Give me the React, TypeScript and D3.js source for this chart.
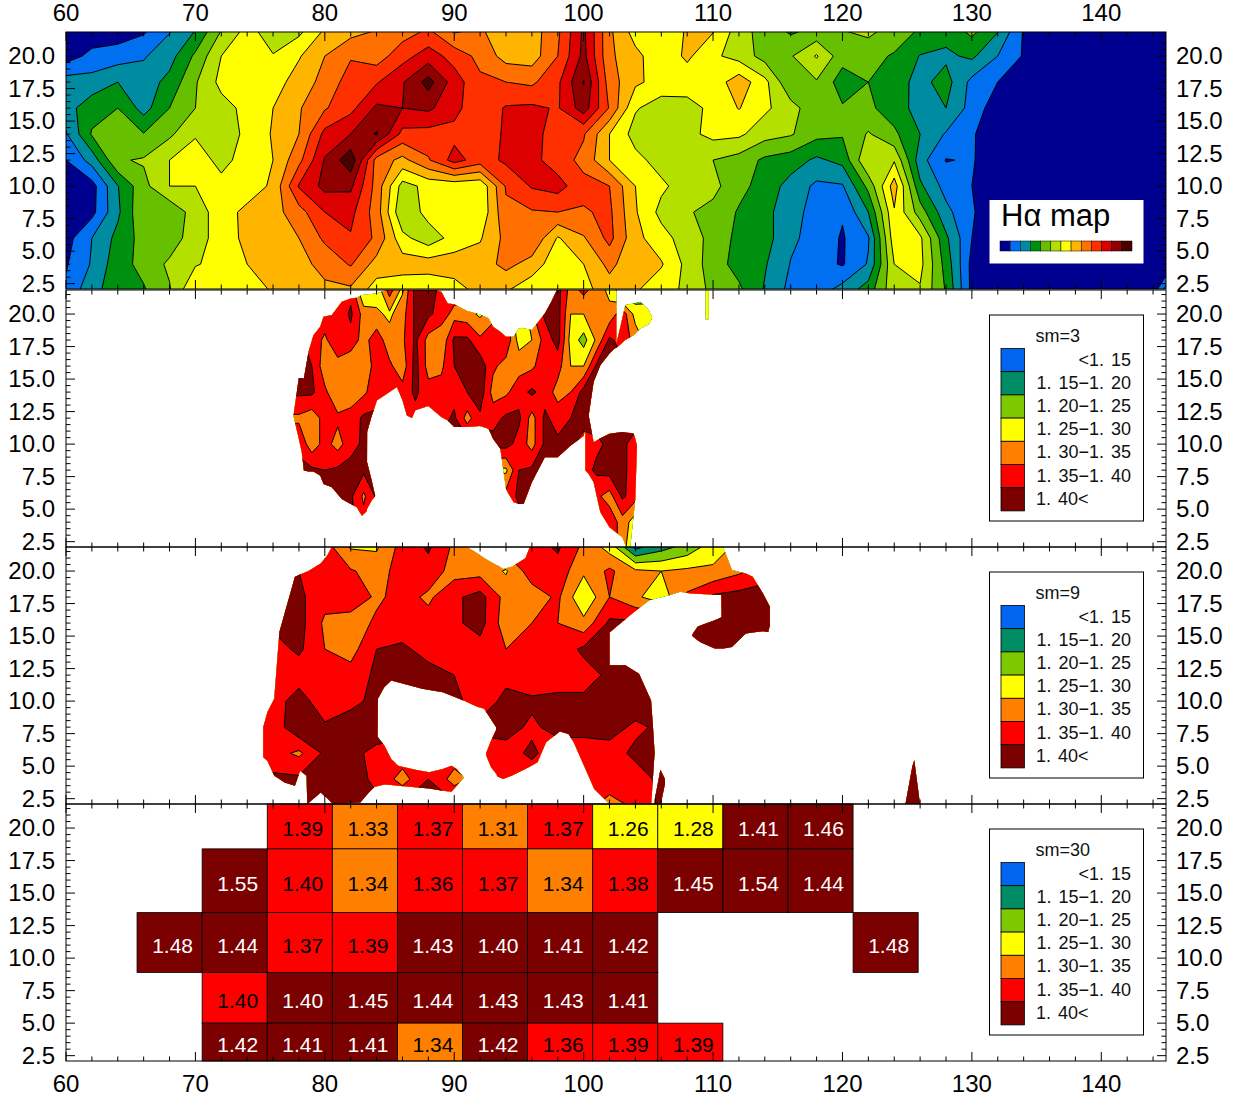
import React from "react";
import * as d3 from "d3";

// ---------- tick labels ----------
const xMajor = [60, 70, 80, 90, 100, 110, 120, 130, 140];
const xMinor = d3.range(60, 146, 2);
const yMajor = [2.5, 5, 7.5, 10, 12.5, 15, 17.5, 20];
const yMinor = d3.range(2.5, 21.6, 0.5);

// ---------- H-alpha map: band index, rows y=22..2, columns x=60,62..146 ----------
const haLevels = [1, 2, 3, 4, 5, 6, 7, 8, 9, 10, 11, 12];
const haColors = ["#000090", "#0070f0", "#008ca0", "#009010", "#66c000", "#b4e000", "#ffff00", "#ffb400", "#ff7000", "#ff3000", "#dc0000", "#900000", "#480000"];
const haGrid = [
  [.3,.3,.4,.8,1.9,3.0,5.0,6.3,5.5,5.7,7.1,7.6,8.0,8.5,9.1,7.8,8.1,7.5,7.5,8.8,11.2,8.2,6.5,6.3,7.1,7.1,5.5,4.5,3.8,4.2,5.0,5.3,4.6,3.9,3.4,4.3,3.1,.9,.3,.3,.3,.3,.3,.3],
  [.5,1.3,1.5,1.9,2.6,4.2,6.0,6.6,6.05,6.9,8.0,8.9,8.5,9.6,10.5,9.6,8.7,7.6,7.5,9.0,11.3,8.2,7.3,6.3,7.2,6.2,5.6,4.6,4.9,6.1,4.4,4.3,3.9,2.95,2.8,3.2,2.0,.9,.3,.3,.3,.3,.3,.3],
  [2.5,2.4,3.0,2.5,3.3,4.9,6.3,6.6,6.5,7.5,8.3,9.5,9.9,10.9,12.4,10.5,9.2,9.0,8.8,9.8,12.05,8.5,7.2,6.6,6.4,6.4,7.6,6.3,4.1,4.9,3.5,4.0,3.4,2.7,3.4,1.7,1.0,.3,.3,.3,.3,.3,.3,.3],
  [2.6,3.6,4.0,2.6,4.0,5.0,5.6,6.3,7.0,7.9,8.9,9.7,11.2,11.0,11.2,10.3,9.3,10.1,10.2,9.9,11.5,8.9,6.1,5.5,5.7,6.2,7.05,6.2,5.4,4.3,4.1,4.2,3.5,2.6,3.0,1.6,.4,.3,.3,.3,.3,.3,.3,.3],
  [1.9,4.1,4.5,4.05,4.8,5.9,5.5,6.2,7.1,8.0,10.3,11.0,12.1,9.7,9.6,9.7,9.2,10.2,10.3,9.6,9.1,7.0,5.6,5.5,5.7,6.3,6.2,5.4,5.1,4.3,4.1,5.1,4.2,3.0,1.9,1.1,.4,.3,.3,.3,.3,.3,.3,.3],
  [1.0,2.4,4.9,5.1,6.0,6.5,5.7,6.4,7.0,8.7,11.1,12.7,8.6,7.7,8.9,10.4,9.5,10.2,10.3,9.5,8.7,7.0,6.3,5.6,5.5,5.0,4.6,3.8,3.5,2.8,3.3,6.0,5.9,2.4,.95,1.1,.3,.3,.3,.3,.3,.3,.3,.3],
  [.4,.6,2.95,4.7,6.0,6.0,6.3,6.4,7.2,10.1,11.3,11.2,8.6,5.6,6.3,6.3,6.2,9.1,10.1,10.4,9.3,9.0,7.0,6.2,5.5,5.3,4.3,3.6,2.6,1.8,1.9,4.3,7.5,3.2,1.6,1.0,.3,.3,.3,.3,.3,.3,.3,.3],
  [.4,.7,2.8,4.9,4.2,5.5,6.5,7.3,7.6,8.6,10.0,10.3,8.5,5.1,6.4,6.4,6.2,8.8,8.9,9.0,8.9,9.2,7.1,5.7,5.1,4.7,3.9,3.4,2.2,1.8,1.1,3.0,6.9,4.5,2.3,1.1,.3,.3,.3,.3,.3,.3,.3,.3],
  [.6,2.0,3.3,4.4,4.4,5.6,6.4,7.3,7.4,8.0,9.2,9.9,8.8,6.3,5.4,6.4,6.9,8.3,8.9,6.9,7.9,9.3,7.3,6.4,5.5,4.7,3.7,3.4,2.2,1.6,.9,1.9,6.6,6.2,3.2,1.0,.3,.3,.3,.3,.3,.3,.3,.3],
  [.9,2.1,3.6,4.3,5.2,5.9,6.4,7.0,7.3,7.7,8.3,9.1,7.6,7.5,7.5,7.5,7.5,8.3,7.6,6.3,7.0,8.3,7.2,7.1,5.7,4.5,3.6,3.1,1.95,1.4,.9,2.1,6.0,6.3,3.6,.7,.3,.3,.3,.3,.3,.3,.3,1.2],
  [1.2,2.7,3.5,3.9,4.9,7.05,6.7,6.5,7.1,7.4,7.8,7.8,6.5,6.3,6.2,6.6,7.3,7.1,6.3,6.2,6.7,7.5,7.1,6.4,5.8,4.7,4.2,2.9,1.7,1.5,2.4,3.5,5.7,5.9,3.9,.7,.3,.3,.3,.3,.3,.3,.3,5],
];

// ---------- ratio panels ----------
const ratioLevels = [1.15, 1.2, 1.25, 1.3, 1.35, 1.4];
const ratioColors = ["#0066f0", "#008c64", "#7ec800", "#ffff00", "#ff8000", "#ff0000", "#7b0000"];
const ratioLabels = ["<1. 15", "1. 15\u22121. 20", "1. 20\u22121. 25", "1. 25\u22121. 30", "1. 30\u22121. 35", "1. 35\u22121. 40", "1. 40<"];

// sm=3: rows y=22..2, columns x=76,77..110 (0 = no observation)
const sm3Grid = [
  [0,0,0,0,0,0,1.38,1.23,1.27,1.38,1.29,1.42,1.42,1.39,0,0,0,0,0,0,0,1.41,1.42,1.33,1.37,1.33,1.28,1.19,1.20,1.22,1.27,0,0,0,0],
  [0,0,0,0,1.38,1.36,1.41,1.33,1.31,1.29,1.33,1.41,1.41,1.38,1.33,1.32,1.29,1.34,1.38,1.23,1.34,1.41,1.42,1.30,1.30,1.33,1.32,1.38,1.28,1.27,1.27,0,0,0,0],
  [0,0,1.41,1.38,1.34,1.39,1.38,1.33,1.38,1.32,1.34,1.41,1.33,1.31,1.41,1.41,1.36,1.37,1.39,1.28,1.30,1.37,1.42,1.28,1.23,1.31,1.41,1.38,1.33,1.28,0,0,0,0,0],
  [0,0,1.41,1.40,1.32,1.33,1.31,1.32,1.37,1.36,1.32,1.42,1.33,1.34,1.40,1.42,1.43,1.36,1.33,1.33,1.34,1.38,1.37,1.30,1.30,1.41,1.41,0,0,0,0,0,0,0,0],
  [0,0,1.41,1.41,1.36,1.31,1.32,1.34,1.38,1.39,1.37,1.41,1.37,1.37,1.38,1.40,1.43,1.33,1.34,1.38,1.41,1.38,1.33,1.35,1.42,1.42,0,0,0,0,0,0,0,0,0],
  [0,0,1.34,1.32,1.37,1.36,1.37,1.41,1.41,1.41,1.39,1.38,1.38,1.38,1.41,1.33,1.39,1.38,1.41,1.41,1.33,1.41,1.38,1.40,1.42,0,0,0,0,0,0,0,0,0,0],
  [0,0,1.39,1.32,1.37,1.33,1.38,1.41,1.41,0,0,0,0,0,0,0,0,0,1.42,1.38,1.33,1.41,1.41,1.41,1.38,1.39,1.41,1.41,1.38,0,0,0,0,0,0],
  [0,0,0,1.41,1.40,1.41,1.42,1.41,0,0,0,0,0,0,0,0,0,0,1.29,1.40,1.41,1.41,0,0,1.38,1.41,1.42,1.41,1.38,0,0,0,0,0,0],
  [0,0,0,0,0,1.41,1.41,1.34,1.41,0,0,0,0,0,0,0,0,0,1.37,1.41,1.41,0,0,0,0,1.36,1.33,1.41,1.37,0,0,0,0,0,0],
  [0,0,0,0,0,0,1.41,1.37,1.41,0,0,0,0,0,0,0,0,0,0,0,0,0,0,0,0,0,1.38,1.33,1.27,0,0,0,0,0,0],
  [0,0,0,0,0,0,1.38,1.38,0,0,0,0,0,0,0,0,0,0,0,0,0,0,0,0,0,0,1.38,1.33,1.22,0,0,0,0,0,0],
];
// observed extent: [x, upper y, lower y]
const sm3Body = [[77.58,12.21,12.16],[77.99,15.09,10.41],[78.22,15.09,9.38],[78.38,15.04,7.97],[78.74,17.1,7.89],[79.12,18.38,7.89],[79.64,19.02,7.58],[79.9,19.79,6.94],[80.54,19.92,6.68],[81.31,20.95,5.78],[82,21.2,5.4],[82.47,21.26,5.14],[82.86,21.47,4.5],[83.25,21.5,4.85],[83.27,21.5,10.93],[83.6,21.55,12.08],[84.03,21.6,13.37],[84.54,21.77,13.7],[85,22,14],[85.57,22,14.4],[86,22,13.37],[86.34,22,12.21],[86.73,22,12],[87,22,12.6],[88,22,12.93],[89,21.72,12.08],[89.5,20.82,11.82],[90,20.75,11.31],[91,20.23,11.31],[92,19.97,11.39],[92.65,19.67,11.18],[93,19.02,10.41],[93.56,18.64,9.64],[94,18.25,6.56],[94.2,18.25,6.17],[94.59,18.25,5.53],[95,18.9,5.4],[95.36,18.9,5.4],[96,18.77,7.07],[97,20.05,9],[97.5,20.95,9],[98,22,9],[99,22,9.9],[100,22,10.62],[100.39,22,12.21],[100.77,22,14.78],[101.29,22,16.07],[102,22,16.97],[102.53,22,17.48]];
const sm3Spur = [[83.2,8.87,4.9],[83.6,7.3,5.63],[83.89,6.04,6.02]];
const sm3Lobe = [[102.47,17.48,17.35],[102.84,19.02,17.66],[103.22,20.69,18],[103.87,20.82,18.38],[104.38,20.95,18.89],[105.03,20.31,19.2],[105.28,19.8,19.67]];
const sm3Lower = [[100.13,12.47,7.97],[100.39,12.21,7.71],[100.77,10.15,7.07],[101.29,10.46,4.76],[102,10.8,3.6],[103,10.93,2.83],[103.35,10.87,1.93],[103.6,10.85,2.06],[103.87,10.8,4.58],[103.99,10.41,5.78],[104.12,9.9,9.85]];
const sm3Tick = [[109.43,22,19.6],[109.66,22,19.6]];

// sm=9: rows y=22..2, columns x=74,76..126
const sm9Grid = [
  [0,0,1.37,1.37,1.29,1.29,1.37,1.41,1.34,1.36,1.38,1.38,1.41,1.34,1.27,1.12,1.17,1.21,1.27,1.31,1.36,0,0,0,0,0,0],
  [0,0,1.40,1.38,1.355,1.33,1.37,1.38,1.33,1.33,1.295,1.38,1.38,1.31,1.36,1.31,1.30,1.31,1.31,1.34,1.38,0,0,0,0,0,0],
  [0,1.41,1.41,1.37,1.39,1.34,1.37,1.34,1.39,1.42,1.33,1.32,1.36,1.255,1.35,1.31,1.27,1.36,1.41,1.42,1.42,0,0,0,0,0,0],
  [0,1.41,1.42,1.34,1.32,1.36,1.37,1.37,1.39,1.42,1.32,1.35,1.35,1.315,1.41,1.41,0,1.42,1.42,1.43,1.43,0,0,0,0,0,0],
  [0,1.38,1.41,1.35,1.33,1.40,1.41,1.38,1.37,1.38,1.35,1.38,1.37,1.41,1.42,1.42,0,1.42,1.42,1.42,1.42,0,0,0,0,0,0],
  [0,1.37,1.37,1.38,1.37,1.41,1.42,1.42,1.40,1.38,1.39,1.36,1.38,1.38,1.41,1.41,0,0,0,0,0,0,0,0,0,0,0],
  [1.32,1.37,1.43,1.36,1.39,1.41,1.41,1.41,1.41,1.38,1.41,1.41,1.41,1.41,1.43,1.43,0,0,0,0,0,0,0,0,0,0,0],
  [1.32,1.37,1.44,1.41,1.42,1.42,0,0,0,1.41,1.42,1.39,1.42,1.42,1.42,1.39,1.41,0,0,0,0,0,0,0,0,0,0],
  [1.37,1.37,1.34,1.41,1.41,1.39,1.38,1.38,1.38,1.38,1.38,1.41,1.37,1.37,1.38,1.41,1.41,0,0,0,0,0,0,0,0,0,0],
  [0,1.41,1.41,1.41,1.42,1.39,1.33,1.40,1.33,1.37,1.37,0,0,1.38,1.38,1.38,1.41,0,0,0,0,0,0,0,0,0,0],
  [0,1.41,1.41,1.41,1.41,1.41,0,0,0,0,0,0,0,1.37,1.33,1.36,1.41,0,0,0,0,0,0,0,0,0,0],
];
const sm9Body = [[75.24,8,5.68],[75.56,9.15,5.42],[76.09,10.18,4.27],[76.49,15.32,4.01],[76.89,16.74,3.75],[77.69,19.56,3.5],[78.09,19.74,4.65],[78.59,19.95,4.27],[78.64,19.95,2.08],[79.68,20.59,2.98],[80.21,21.23,2.52],[80.61,22,2.08],[82.74,22,2.21],[83.4,22,2.98],[84.04,22,3.62],[84.1,22,10.18],[84.6,22,11.08],[85.13,22,11.59],[87.53,22,10.95],[89.12,22,10.69],[90.72,22,10.05],[91.78,21.36,9.56],[92.31,21,9.41],[93.24,20.46,8],[93.3,20.46,4.22],[93.78,20.15,4.01],[94.44,20.33,4.27],[95.5,20.98,4.78],[95.9,22,4.99],[96.44,22,5.3],[97.1,22,6.84],[98.16,22,7.67],[98.83,22,7.48],[99.23,22,6.84],[100.82,22,3.24],[102,22,2.08]];
const sm9Upper = [[101.9,22,15.2],[103.75,22,16.74],[105.08,22,17.76],[106.68,22,18.15],[107.47,22,18.41],[108.27,22,18.28],[110.64,22,18.15],[110.69,22,14.06],[110.8,21.8,14.04],[111.46,20.08,14.16],[112.53,19.82,15.19],[113.06,19.56,15.27],[113.86,18.28,15.37],[114.26,17.51,15.32],[114.39,17.25,15.84]];
const sm9Arm = [[108.4,15.12,15.01],[108.8,15.71,14.68],[109.07,15.84,14.5],[110.13,16.22,14.04],[110.75,16.48,14.04]];
const sm9Right = [[101.9,12.75,2.08],[103.22,12.75,1.95],[104.28,12.11,1.95],[105.21,10.05,1.95],[105.35,8.12,4.01],[105.48,6.07,6.02]];
const sm9Hook = [[92.47,6.02,5.81],[92.85,6.97,4.91],[93.4,8.12,4.22]];
const sm9Tail = [[83.8,7.61,3.4],[84.6,6.58,3.58],[85.13,5.55,3.55],[85.66,5.04,3.5],[86.99,4.73,3.37],[88.06,4.53,3.29],[89.12,4.78,3.11],[89.79,5.04,3.03],[90.19,4.78,3.5],[90.72,4.14,4.09]];
const sm9Spike1 = [[105.4,1.95,1.95],[105.93,4.73,1.95],[106.28,4.01,3.62]];
const sm9Spike2 = [[124.85,2,2],[125.4,5,2],[125.55,5.45,2],[126,2,2]];

// sm=30: binned cells
const sm30XEdges = [65.49, 70.52, 75.55, 80.58, 85.61, 90.64, 95.67, 100.7, 105.73, 110.76, 115.79, 120.82, 125.85];
const sm30YEdges = [21.85, 18.4, 13.5, 8.9, 5.0, 2.09];
const sm30Rows = [
  [null,null,1.39,1.33,1.37,1.31,1.37,1.26,1.28,1.41,1.46,null],
  [null,1.55,1.398,1.34,1.36,1.37,1.34,1.38,1.45,1.54,1.44,null],
  [1.48,1.44,1.37,1.39,1.43,1.402,1.41,1.42,null,null,null,1.48],
  [null,1.398,1.402,1.45,1.44,1.43,1.43,1.41,null,null,null,null],
  [null,1.42,1.41,1.41,1.34,1.42,1.36,1.39,1.39,null,null,null],
];

const PANEL_TOPS = [32, 290, 547, 804];
const PANEL_H = 257;
const X0 = 66, X1 = 1166;
const FONT = "'Liberation Sans', Arial, sans-serif";
const xs = d3.scaleLinear().domain([60, 145]).range([X0, X1]);

function fillGaps(grid: number[][]) {
  return grid.map((row) => row.map((v, i) => {
    if (v) return v;
    for (let k = 1; k < row.length; k++) {
      if (row[i - k]) return row[i - k];
      if (row[i + k]) return row[i + k];
    }
    return 1.41;
  }));
}

function Bands({ grid, x0, dx, levels, colors, ys, clip }: any) {
  const n = grid[0].length, m = grid.length;
  const gen = d3.contours().size([n, m]).thresholds(levels);
  const path = d3.geoPath(d3.geoTransform({
    point(px: number, py: number) {
      (this as any).stream.point(xs(x0 + dx * (px - 0.5)), ys(22 - 2 * (py - 0.5)));
    },
  }));
  const polys = gen(grid.flat());
  return (
    <g clipPath={clip}>
      <rect x={xs(x0 - dx)} y={ys(23)} width={xs(x0 + dx * n) - xs(x0 - dx)} height={ys(1) - ys(23)} fill={colors[0]} />
      {polys.map((c: any, i: number) => (
        <path key={i} d={path(c) || ""} fill={colors[i + 1]} stroke="#000" strokeWidth={1} strokeLinejoin="round" />
      ))}
    </g>
  );
}

function Coverage({ id, parts, ys }: any) {
  const area = d3.area<number[]>().x((d) => xs(d[0])).y0((d) => ys(d[2])).y1((d) => ys(d[1]));
  return <clipPath id={id}>{parts.map((p: number[][], i: number) => <path key={i} d={area(p) || ""} />)}</clipPath>;
}

function Frame({ top, ys }: any) {
  const bottom = top + PANEL_H;
  const t: any[] = [];
  xMinor.forEach((v) => {
    const M = xMajor.includes(v);
    const len = M ? 9 : 4.5;
    t.push(<line key={"b" + v} x1={xs(v)} x2={xs(v)} y1={bottom} y2={bottom - len} />);
    t.push(<line key={"t" + v} x1={xs(v)} x2={xs(v)} y1={top} y2={top + len} />);
  });
  yMinor.forEach((v) => {
    const M = yMajor.includes(v);
    const len = M ? 9 : 4.5;
    t.push(<line key={"l" + v} x1={X0} x2={X0 + len} y1={ys(v)} y2={ys(v)} />);
    t.push(<line key={"r" + v} x1={X1} x2={X1 - len} y1={ys(v)} y2={ys(v)} />);
  });
  return (
    <g stroke="#000" strokeWidth={1} fill="none">
      {t}
      <rect x={X0} y={top} width={X1 - X0} height={PANEL_H} strokeWidth={1} />
    </g>
  );
}

function YLabels({ ys }: any) {
  return (
    <g fontFamily={FONT} fontSize={24} fill="#000">
      {yMajor.map((v) => (
        <g key={v}>
          <text x={55} y={ys(v) + 8} textAnchor="end">{v.toFixed(1)}</text>
          <text x={1176} y={ys(v) + 8}>{v.toFixed(1)}</text>
        </g>
      ))}
    </g>
  );
}

function Legend({ top, title }: any) {
  const boxTop = top + 25;
  const rowH = 23.2;
  const first = boxTop + 33.5;
  return (
    <g fontFamily={FONT} fontSize={18} fill="#111" wordSpacing={2}>
      <rect x={989.5} y={boxTop} width={154} height={206} fill="#fff" stroke="#000" strokeWidth={1} />
      <text x={1035.5} y={boxTop + 27}>{title}</text>
      {ratioColors.map((c, i) => (
        <g key={c}>
          <rect x={1001} y={first + i * rowH} width={23.4} height={rowH} fill={c} stroke="#000" strokeWidth={0.8} />
          <text
            x={i === 6 ? 1036 : 1131}
            y={first + i * rowH + 17}
            textAnchor={i === 6 ? "start" : "end"}
          >{ratioLabels[i]}</text>
        </g>
      ))}
    </g>
  );
}

export default function App() {
  const yScales = PANEL_TOPS.map((t) => d3.scaleLinear().domain([2.09, 21.85]).range([t + PANEL_H, t]));
  const swatchW = 132 / haColors.length;
  return (
    <svg width={1240} height={1100} style={{ position: "absolute", left: 0, top: 0, background: "#fff" }}>
      <defs>
        {PANEL_TOPS.map((t, i) => (
          <clipPath key={i} id={"panel" + i}><rect x={X0} y={t} width={X1 - X0} height={PANEL_H} /></clipPath>
        ))}
        <Coverage id="cov3" ys={yScales[1]} parts={[sm3Body, sm3Spur, sm3Lobe, sm3Lower, sm3Tick]} />
        <Coverage id="cov9" ys={yScales[2]} parts={[sm9Body, sm9Upper, sm9Arm, sm9Right, sm9Hook, sm9Tail, sm9Spike1, sm9Spike2]} />
      </defs>

      <g clipPath="url(#panel0)">
        <Bands grid={haGrid} x0={60} dx={2} levels={haLevels} colors={haColors} ys={yScales[0]} />
      </g>
      <g clipPath="url(#panel1)">
        <Bands grid={fillGaps(sm3Grid)} x0={76} dx={1} levels={ratioLevels} colors={ratioColors} ys={yScales[1]} clip="url(#cov3)" />
      </g>
      <g clipPath="url(#panel2)">
        <Bands grid={fillGaps(sm9Grid)} x0={74} dx={2} levels={ratioLevels} colors={ratioColors} ys={yScales[2]} clip="url(#cov9)" />
      </g>

      <g fontFamily={FONT} fontSize={21}>
        {sm30Rows.map((row, r) => row.map((v, c) => {
          if (v === null) return null;
          const x = xs(sm30XEdges[c]), w = xs(sm30XEdges[c + 1]) - x;
          const y = yScales[3](sm30YEdges[r]), h = yScales[3](sm30YEdges[r + 1]) - y;
          const idx = d3.bisectRight(ratioLevels, v);
          return (
            <g key={r + "-" + c}>
              <rect x={x} y={y} width={w} height={h} fill={ratioColors[idx]} stroke="#000" strokeWidth={0.8} />
              <text x={x + w / 2 + 3} y={y + h / 2 + 10} textAnchor="middle" fill={idx === 6 ? "#fff" : "#000"}>{v.toFixed(2)}</text>
            </g>
          );
        }))}
      </g>

      {PANEL_TOPS.map((t, i) => <Frame key={i} top={t} ys={yScales[i]} />)}
      {yScales.map((s, i) => <YLabels key={i} ys={s} />)}

      <g fontFamily={FONT} fontSize={24} textAnchor="middle" fill="#000">
        {xMajor.map((v) => (
          <g key={v}>
            <text x={xs(v)} y={21}>{v}</text>
            <text x={xs(v)} y={1092}>{v}</text>
          </g>
        ))}
      </g>

      <g>
        <rect x={989.5} y={200} width={154} height={63.5} fill="#fff" />
        <text x={1001} y={226} fontFamily={FONT} fontSize={31} fill="#000">Hα map</text>
        {haColors.map((c, i) => (
          <rect key={c} x={1000 + i * swatchW} y={241} width={swatchW} height={10} fill={c} stroke="#000" strokeWidth={0.5} />
        ))}
      </g>
      <Legend top={PANEL_TOPS[1]} title="sm=3" />
      <Legend top={PANEL_TOPS[2]} title="sm=9" />
      <Legend top={PANEL_TOPS[3]} title="sm=30" />
    </svg>
  );
}
